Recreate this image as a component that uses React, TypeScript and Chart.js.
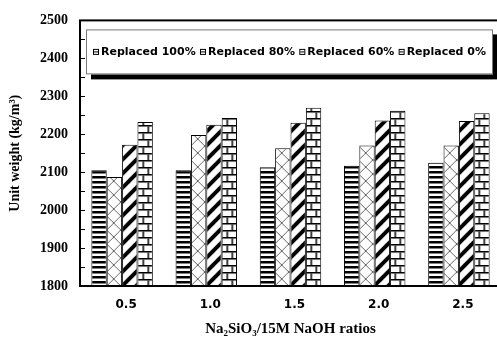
import React, { useEffect, useRef } from "react";
import { Chart, registerables } from "chart.js";

Chart.register(...registerables);

const ratios = ["0.5", "1.0", "1.5", "2.0", "2.5"];
const seriesLabels = ["Replaced 100%", "Replaced 80%", "Replaced 60%", "Replaced 0%"];
const replaced100 = [2105, 2105, 2113, 2117, 2125];
const replaced80 = [2087, 2198, 2163, 2170, 2170];
const replaced60 = [2172, 2225, 2230, 2236, 2235];
const replaced0 = [2232, 2243, 2270, 2262, 2255];
const yMin = 1800;
const yMax = 2500;
const yStep = 100;
const yMinorStep = 50;
const xTitle = "Na\u2082SiO\u2083/15M NaOH ratios";
const yTitle = "Unit weight (kg/m\u00B3)";

const seriesValues = [replaced100, replaced80, replaced60, replaced0];

function makeTile(
  target: CanvasRenderingContext2D,
  w: number,
  h: number,
  draw: (g: CanvasRenderingContext2D) => void
): CanvasPattern {
  const c = document.createElement("canvas");
  c.width = w;
  c.height = h;
  const g = c.getContext("2d")!;
  g.fillStyle = "#fff";
  g.fillRect(0, 0, w, h);
  draw(g);
  return target.createPattern(c, "repeat")!;
}

function makePatterns(ctx: CanvasRenderingContext2D): CanvasPattern[] {
  const hstripe = makeTile(ctx, 5, 5, (g) => {
    g.fillStyle = "#000";
    g.fillRect(0, 0, 5, 2.5);
  });
  const cross = makeTile(ctx, 14, 14, (g) => {
    g.strokeStyle = "#666";
    g.lineWidth = 1;
    g.beginPath();
    g.moveTo(-1, -1);
    g.lineTo(15, 15);
    g.moveTo(15, -1);
    g.lineTo(-1, 15);
    g.stroke();
  });
  const diag = makeTile(ctx, 14, 14, (g) => {
    g.strokeStyle = "#000";
    g.lineWidth = 4;
    g.beginPath();
    for (const k of [-14, 0, 14]) {
      g.moveTo(k - 2, 16);
      g.lineTo(k + 16, -2);
    }
    g.stroke();
  });
  const brick = makeTile(ctx, 14, 14, (g) => {
    g.fillStyle = "#000";
    g.fillRect(0, 0, 14, 1.5);
    g.fillRect(0, 7, 14, 1.5);
    g.fillRect(5, 1.5, 1.5, 5.5);
    g.fillRect(10, 8.5, 1.5, 5.5);
  });
  return [hstripe, cross, diag, brick];
}

export default function App() {
  const ref = useRef<HTMLCanvasElement>(null);

  useEffect(() => {
    const canvas = ref.current!;
    const ctx = canvas.getContext("2d")!;
    const patterns = makePatterns(ctx);

    const patternAlign = {
      id: "patternAlign",
      beforeDatasetsDraw(chart: any) {
        chart.data.datasets.forEach((_: any, i: number) => {
          const el: any = chart.getDatasetMeta(i).data[0];
          if (!el) return;
          const left = el.x - el.width / 2;
          try {
            patterns[i].setTransform(new DOMMatrix([1, 0, 0, 1, left, chart.chartArea.bottom]));
          } catch (e) {}
        });
      },
    };

    const framePlugin = {
      id: "frame",
      afterDatasetsDraw(chart: any) {
        const { ctx: c, chartArea: a, scales } = chart;
        const y = scales.y;
        c.save();
        c.strokeStyle = "#000";
        c.lineWidth = 1;
        c.beginPath();
        for (let v = yMin; v <= yMax; v += yMinorStep) {
          const py = Math.round(y.getPixelForValue(v)) + 0.5;
          c.moveTo(a.left, py);
          c.lineTo(a.left + 5, py);
        }
        c.stroke();
        c.lineWidth = 2;
        c.strokeRect(a.left, a.top, a.right - a.left, a.bottom - a.top);
        c.restore();
      },
    };

    const legendPlugin = {
      id: "boxLegend",
      afterDraw(chart: any) {
        const { ctx: c, chartArea: a } = chart;
        const x = a.left + 6;
        const y = a.top + 9;
        const w = 493 - x;
        const h = 45;
        c.save();
        c.fillStyle = "#000";
        c.fillRect(x + 5, y + 5, w, h);
        c.fillStyle = "#fff";
        c.fillRect(x, y, w, h);
        c.strokeStyle = "#777";
        c.lineWidth = 1;
        c.strokeRect(x + 0.5, y + 0.5, w - 1, h - 1);
        c.font = "bold 11px 'DejaVu Sans'";
        c.textBaseline = "middle";
        c.fillStyle = "#000";
        const labels: string[] = chart.data.datasets.map((d: any) => d.label);
        const marker = 6;
        const mgap = 2;
        const pad = 7;
        const widths = labels.map((l) => c.measureText(l).width);
        const total = widths.reduce((s, v) => s + v + marker + mgap, 0);
        const gap = (w - 2 * pad - total) / (labels.length - 1);
        let cx = x + pad;
        const cy = y + h / 2;
        labels.forEach((l, i) => {
          c.fillStyle = "#fff";
          c.fillRect(cx, cy - marker / 2, marker, marker);
          c.strokeStyle = "#000";
          c.strokeRect(cx + 0.5, cy - marker / 2 + 0.5, marker - 1, marker - 1);
          c.fillStyle = "#000";
          c.fillRect(cx + 1, cy - 0.5, marker - 2, 1);
          c.fillText(l, cx + marker + mgap, cy + 0.5);
          cx += marker + mgap + widths[i] + gap;
        });
        c.restore();
      },
    };

    const chart = new Chart(canvas, {
      type: "bar",
      data: {
        labels: ratios,
        datasets: seriesValues.map((vals, i) => ({
          label: seriesLabels[i],
          data: vals,
          backgroundColor: patterns[i],
          borderColor: "#000",
          borderWidth: 1,
          categoryPercentage: 0.73,
          barPercentage: 1,
        })),
      },
      options: {
        responsive: false,
        animation: false,
        devicePixelRatio: 1,
        layout: { padding: { top: 14, right: 9, left: 0, bottom: 0 } },
        plugins: { legend: { display: false }, tooltip: { enabled: false } },
        scales: {
          x: {
            grid: { display: false, drawTicks: false },
            border: { display: false },
            ticks: {
              color: "#000",
              font: { family: "'DejaVu Sans'", weight: "bold", size: 12 },
              padding: 12,
              labelOffset: 4,
            },
            title: {
              display: true,
              text: xTitle,
              color: "#000",
              font: { family: "'Liberation Serif'", weight: "bold", size: 15 },
              padding: { top: 0, bottom: 0 },
            },
            afterFit: (s: any) => {
              s.height = 52;
            },
          },
          y: {
            min: yMin,
            max: yMax,
            grid: { display: false, drawTicks: false },
            border: { display: false },
            ticks: {
              stepSize: yStep,
              color: "#000",
              font: { family: "'Liberation Serif'", weight: "bold", size: 14 },
              padding: 12,
              callback: (v: any) => String(v),
            },
            title: {
              display: true,
              text: yTitle,
              color: "#000",
              font: { family: "'Liberation Serif'", weight: "bold", size: 14 },
              padding: { top: 6.5, bottom: 0 },
            },
            afterFit: (s: any) => {
              s.width = 80;
            },
          },
        },
      } as any,
      plugins: [patternAlign, framePlugin, legendPlugin],
    });
    return () => chart.destroy();
  }, []);

  return (
    <div
      style={{
        position: "fixed",
        left: 0,
        top: 0,
        width: 497,
        height: 338,
        overflow: "hidden",
        background: "#fff",
      }}
    >
      <canvas ref={ref} width={510} height={338} style={{ display: "block" }} />
    </div>
  );
}
